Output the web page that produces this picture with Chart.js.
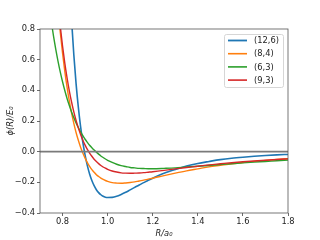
<!DOCTYPE html>
<html>
<head>
<meta charset="utf-8">
<script src="https://cdn.jsdelivr.net/npm/chart.js@4/dist/chart.umd.min.js"></script>
<style>
  html, body { margin: 0; padding: 0; background: #fff; }
  canvas { display: block; }
</style>
</head>
<body>
<canvas id="mie" width="320" height="240"></canvas>
<script>
// separation R/a0, shared by all curves
var radius = [0.74, 0.75, 0.76, 0.77, 0.78, 0.79, 0.80, 0.81, 0.82, 0.83,
  0.84, 0.85, 0.86, 0.87, 0.88, 0.89, 0.90, 0.91, 0.92, 0.93,
  0.94, 0.95, 0.96, 0.97, 0.98, 0.99, 1.00,
  1.02, 1.04, 1.06, 1.08, 1.10, 1.12, 1.14, 1.16, 1.18, 1.20,
  1.25, 1.30, 1.35, 1.40, 1.45, 1.50, 1.55, 1.60, 1.65, 1.70, 1.75, 1.80];

var phi126 = [null, null, null, null, null, null, null, null, 1.467, 1.134,
  0.859, 0.632, 0.444, 0.290, 0.164, 0.060, -0.023, -0.091, -0.145, -0.188,
  -0.222, -0.248, -0.267, -0.281, -0.291, -0.297, -0.299,
  -0.298, -0.291, -0.279, -0.265, -0.249, -0.233, -0.217, -0.202, -0.187, -0.173,
  -0.141, -0.116, -0.094, -0.077, -0.064, -0.052, -0.043, -0.036, -0.030, -0.025, -0.021, -0.018];

var phi84 = [null, null, null, 1.112, 0.934, 0.778, 0.642, 0.524, 0.421, 0.331,
  0.253, 0.185, 0.125, 0.074, 0.029, -0.009, -0.042, -0.071, -0.096, -0.117,
  -0.134, -0.150, -0.162, -0.173, -0.181, -0.188, -0.194,
  -0.202, -0.205, -0.206, -0.204, -0.201, -0.197, -0.191, -0.186, -0.179, -0.173,
  -0.156, -0.140, -0.125, -0.112, -0.099, -0.089, -0.079, -0.071, -0.063, -0.057, -0.051, -0.046];

var phi63 = [0.956, 0.849, 0.753, 0.667, 0.589, 0.519, 0.456, 0.399, 0.347, 0.301,
  0.259, 0.222, 0.188, 0.157, 0.129, 0.104, 0.081, 0.061, 0.042, 0.026,
  0.011, -0.003, -0.016, -0.028, -0.038, -0.048, -0.056,
  -0.070, -0.082, -0.091, -0.097, -0.103, -0.106, -0.109, -0.110, -0.111, -0.111,
  -0.109, -0.106, -0.100, -0.095, -0.090, -0.084, -0.079, -0.073, -0.068, -0.064, -0.059, -0.055];

var phi93 = [null, null, null, 1.131, 0.963, 0.816, 0.689, 0.578, 0.482, 0.397,
  0.324, 0.260, 0.204, 0.155, 0.112, 0.075, 0.043, 0.015, -0.009, -0.030,
  -0.049, -0.064, -0.078, -0.090, -0.100, -0.108, -0.115,
  -0.126, -0.133, -0.138, -0.140, -0.141, -0.140, -0.139, -0.137, -0.134, -0.131,
  -0.122, -0.112, -0.103, -0.095, -0.086, -0.079, -0.072, -0.066, -0.061, -0.056, -0.051, -0.047];

var seriesLabels = ['(12,6)', '(8,4)', '(6,3)', '(9,3)'];
var xTicks = [0.8, 1.0, 1.2, 1.4, 1.6, 1.8];
var yTicks = [-0.4, -0.2, 0.0, 0.2, 0.4, 0.6, 0.8];

var FONT = { family: 'DejaVu Sans', size: 8.3 };
var INK = '#222';

function pts(vals) {
  return radius.map(function (r, i) { return { x: r, y: vals[i] }; });
}

function fmt(v) {
  return v.toFixed(1).replace('-', '\u2212');
}

// matplotlib-style frame, zero line and boxed legend
var decor = {
  id: 'decor',
  afterDatasetsDraw: function (chart) {
    var ctx = chart.ctx, a = chart.chartArea;
    var y0 = chart.scales.y.getPixelForValue(0);
    ctx.save();
    ctx.strokeStyle = '#7a7a7a';
    ctx.lineWidth = 1.6;
    ctx.beginPath();
    ctx.moveTo(a.left, y0);
    ctx.lineTo(a.right, y0);
    ctx.stroke();

    ctx.strokeStyle = '#555';
    ctx.lineWidth = 0.8;
    ctx.strokeRect(a.left, a.top, a.right - a.left, a.bottom - a.top);

    // legend box
    var bx = 224.5, by = 34.5, bw = 59, bh = 53, rad = 2;
    ctx.beginPath();
    ctx.moveTo(bx + rad, by);
    ctx.arcTo(bx + bw, by, bx + bw, by + bh, rad);
    ctx.arcTo(bx + bw, by + bh, bx, by + bh, rad);
    ctx.arcTo(bx, by + bh, bx, by, rad);
    ctx.arcTo(bx, by, bx + bw, by, rad);
    ctx.closePath();
    ctx.fillStyle = 'rgba(255,255,255,0.8)';
    ctx.fill();
    ctx.strokeStyle = '#d6d6d6';
    ctx.lineWidth = 1;
    ctx.stroke();

    ctx.font = FONT.size + 'px "' + FONT.family + '"';
    ctx.textBaseline = 'middle';
    ctx.textAlign = 'left';
    chart.data.datasets.forEach(function (ds, i) {
      if (i >= seriesLabels.length) return;
      var ly = 40.5 + i * 13.2;
      ctx.strokeStyle = ds.borderColor;
      ctx.lineWidth = ds.borderWidth + 0.2;
      ctx.beginPath();
      ctx.moveTo(228, ly);
      ctx.lineTo(247, ly);
      ctx.stroke();
      ctx.fillStyle = INK;
      ctx.fillText(ds.label, 254, ly + 0.5);
    });
    ctx.restore();
  }
};

function line(label, vals, color, width, order) {
  return {
    label: label,
    data: pts(vals),
    borderColor: color,
    borderWidth: width,
    pointRadius: 0,
    fill: false,
    cubicInterpolationMode: 'monotone',
    clip: 0,
    order: order
  };
}

new Chart(document.getElementById('mie').getContext('2d'), {
  type: 'line',
  data: {
    datasets: [
      line(seriesLabels[0], phi126, '#1f77b4', 1.6, 4),
      line(seriesLabels[1], phi84, '#ff7f0e', 1.4, 3),
      line(seriesLabels[2], phi63, '#2ca02c', 1.4, 2),
      line(seriesLabels[3], phi93, '#d62728', 1.4, 1)
    ]
  },
  options: {
    responsive: false,
    animation: false,
    devicePixelRatio: 1,
    layout: { padding: { left: 0, right: 32, top: 29, bottom: 0 } },
    plugins: {
      legend: { display: false },
      tooltip: { enabled: false }
    },
    scales: {
      x: {
        type: 'linear',
        min: 0.7,
        max: 1.8,
        afterBuildTicks: function (axis) {
          axis.ticks = xTicks.map(function (v) { return { value: v }; });
        },
        afterFit: function (axis) { axis.height = 27; },
        grid: { drawOnChartArea: false, drawTicks: true, tickLength: 3, color: '#444', lineWidth: 0.8 },
        border: { display: false },
        ticks: { font: FONT, color: INK, padding: 1, maxRotation: 0, callback: function (v) { return fmt(v); } },
        title: { display: true, text: 'R/a\u2080', font: { family: FONT.family, size: FONT.size, style: 'italic' }, color: INK, padding: { top: 0, bottom: 1 } }
      },
      y: {
        min: -0.4,
        max: 0.8,
        afterBuildTicks: function (axis) {
          axis.ticks = yTicks.map(function (v) { return { value: v }; });
        },
        afterFit: function (axis) { axis.width = 40; },
        grid: { drawOnChartArea: false, drawTicks: true, tickLength: 3, color: '#444', lineWidth: 0.8 },
        border: { display: false },
        ticks: { font: FONT, color: INK, padding: 2, callback: function (v) { return fmt(v); } },
        title: { display: true, text: '\u03d5(R)/E\u2080', font: { family: FONT.family, size: FONT.size, style: 'italic' }, color: INK, padding: { top: 6, bottom: 0 } }
      }
    }
  },
  plugins: [decor]
});
</script>
</body>
</html>
